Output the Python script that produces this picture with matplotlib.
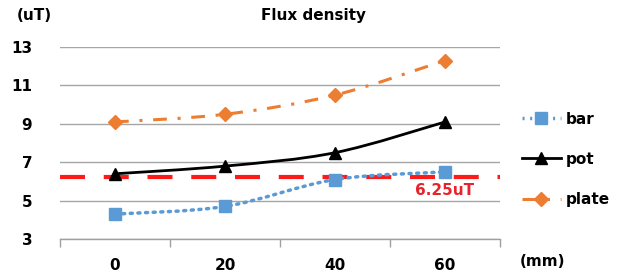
import matplotlib
matplotlib.use("Agg")
import matplotlib.pyplot as plt
import numpy as np
from matplotlib.path import Path
from matplotlib.patches import PathPatch

categories = ["0", "20", "40", "60"]
bar = [4.3, 4.7, 6.1, 6.5]
pot = [6.4, 6.8, 7.5, 9.1]
plate = [9.1, 9.5, 10.5, 12.3]
threshold = 6.25
yticks = [3, 5, 7, 9, 11, 13]

fig = plt.figure(figsize=(6.27, 2.77), dpi=100)
ax = fig.add_axes([0.0957, 0.137, 0.7018, 0.693])
x = np.arange(len(categories))


def smooth_path(xs, ys):
    pts = np.column_stack([xs, ys]).astype(float)
    verts = [pts[0]]
    codes = [Path.MOVETO]
    n = len(pts)
    for i in range(n - 1):
        p0 = pts[i - 1] if i > 0 else pts[i]
        p1 = pts[i]
        p2 = pts[i + 1]
        p3 = pts[i + 2] if i + 2 < n else pts[i + 1]
        c1 = p1 + (p2 - p0) / 6.0
        c2 = p2 - (p3 - p1) / 6.0
        verts += [c1, c2, p2]
        codes += [Path.CURVE4] * 3
    return Path(verts, codes)


def draw(vals, color, ls, lw, marker, ms, label, capstyle="butt"):
    patch = PathPatch(smooth_path(x, vals), fill=False, edgecolor=color,
                      linewidth=lw, linestyle=ls, zorder=3, capstyle=capstyle)
    ax.add_patch(patch)
    ax.plot(x, vals, linestyle="none", marker=marker, markersize=ms,
            color=color, zorder=4)
    ax.plot([], [], color=color, linestyle=ls, linewidth=lw, marker=marker,
            markersize=ms, label=label)


ax.axhline(threshold, color="#ff1a1a", linewidth=3, dashes=(6, 4.5), zorder=2)

draw(bar, "#5b9bd5", (0, (0.6, 1.6)), 2.5, "s", 8.5, "bar", capstyle="round")
draw(pot, "black", "-", 2.0, "^", 8.5, "pot")
draw(plate, "#ed7d31", (0, (4.5, 3.5, 1, 3.5)), 2.2, "D", 7.5, "plate")

ax.set_xlim(-0.5, 3.5)
ax.set_ylim(3, 13)
ax.set_yticks(yticks)
ax.set_yticklabels([str(v) for v in yticks], fontsize=11, fontweight="bold")
ax.set_xticks(x)
ax.set_xticklabels(categories, fontsize=11, fontweight="bold")
ax.set_xticks(np.arange(-0.5, 4.0, 1.0), minor=True)
ax.tick_params(axis="x", which="major", length=0, pad=14)
ax.tick_params(axis="x", which="minor", length=6, width=1, color="#a0a0a0",
               direction="out")
ax.tick_params(axis="y", length=0, pad=20)
ax.grid(axis="y", color="#a6a6a6", linewidth=1)
ax.set_axisbelow(True)
for s in ["left", "right", "top"]:
    ax.spines[s].set_visible(False)
ax.spines["bottom"].set_color("#a0a0a0")
ax.spines["bottom"].set_linewidth(1)

ax.text(3.0, 5.55, "6.25uT", color="#e8212b", fontsize=11, fontweight="bold",
        ha="center", va="center")

fig.text(0.5, 0.945, "Flux density", ha="center", va="center", fontsize=11,
         fontweight="bold")
fig.text(0.055, 0.945, "(uT)", ha="center", va="center", fontsize=11,
         fontweight="bold")
fig.text(0.866, 0.055, "(mm)", ha="center", va="center", fontsize=11,
         fontweight="bold")

leg = fig.legend(loc="center left", bbox_to_anchor=(0.81, 0.425), frameon=False,
                 prop={"size": 11, "weight": "bold"}, handlelength=2.6,
                 labelspacing=1.65, handletextpad=0.3)

fig.savefig("out.png", dpi=100)
